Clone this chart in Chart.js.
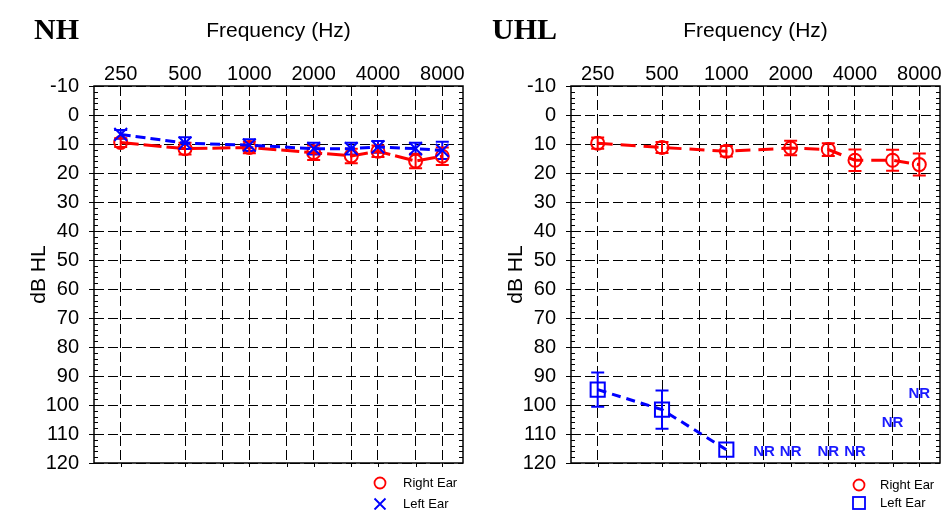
<!DOCTYPE html>
<html>
<head>
<meta charset="utf-8">
<script src="https://cdn.jsdelivr.net/npm/chart.js@4.4.0/dist/chart.umd.min.js"></script>
<style>
body{margin:0;background:#fff;width:945px;height:510px;position:relative;overflow:hidden;font-family:"Liberation Sans",Arial,sans-serif}
canvas{position:absolute;top:0}
#nh{left:0}
#uhl{left:477px}
.ttl{position:absolute;font-family:"Liberation Serif","Times New Roman",serif;font-weight:bold;font-size:30px;line-height:30px;color:#000}
.leg{position:absolute;font-size:13px;line-height:16px;color:#000;white-space:nowrap}
svg{position:absolute;overflow:visible}
</style>
</head>
<body>
<canvas id="nh" width="470" height="510"></canvas>
<canvas id="uhl" width="470" height="510"></canvas>

<div class="ttl" style="left:34px;top:14px">NH</div>
<div class="ttl" style="left:492px;top:14px">UHL</div>

<!-- legends -->
<svg style="left:373px;top:476px" width="14" height="14"><circle cx="7" cy="7" r="5.5" fill="none" stroke="#f00" stroke-width="1.8"/></svg>
<svg style="left:373px;top:497px" width="14" height="14"><path d="M1.5 1.5L12.5 12.5M12.5 1.5L1.5 12.5" stroke="#00f" stroke-width="1.8"/></svg>
<div class="leg" style="left:403px;top:475px">Right Ear</div>
<div class="leg" style="left:403px;top:496px">Left Ear</div>

<svg style="left:852px;top:478px" width="14" height="14"><circle cx="7" cy="7" r="5.5" fill="none" stroke="#f00" stroke-width="1.8"/></svg>
<svg style="left:852px;top:496px" width="14" height="14"><rect x="1" y="1" width="12" height="12" fill="none" stroke="#00f" stroke-width="1.8"/></svg>
<div class="leg" style="left:880px;top:477px">Right Ear</div>
<div class="leg" style="left:880px;top:495px">Left Ear</div>

<script>
var freqGrid = [250, 500, 750, 1000, 1500, 2000, 3000, 4000, 6000, 8000];
var freqLabels = [250, 500, 1000, 2000, 4000, 8000];

// NH
var nhFreqs = [250, 500, 1000, 2000, 3000, 4000, 6000, 8000];
var nhRight = [9.5, 11.6, 11.2, 13, 14.1, 12.5, 15.9, 14.2];
var nhRightErr = [1.5, 2, 2, 2.5, 2.5, 2, 2.5, 3];
var nhLeft = [6.7, 9.7, 10.4, 11.6, 11.6, 11, 11.6, 12.2];
var nhLeftErr = [1.5, 2, 2, 2, 2, 2, 2, 3];

// UHL
var uhlRightFreqs = [250, 500, 1000, 2000, 3000, 4000, 6000, 8000];
var uhlRight = [9.7, 11.2, 12.5, 11.4, 11.9, 15.6, 15.6, 17.1];
var uhlRightErr = [1.9, 1.9, 1.8, 2.5, 2.2, 3.7, 3.6, 3.8];
var uhlLeftFreqs = [250, 500, 1000];
var uhlLeft = [94.7, 101.6, 115.4];
var uhlLeftErr = [5.9, 6.6, 0];
var nrFreqs = [1500, 2000, 3000, 4000, 6000, 8000];
var nrLevels = [116, 116, 116, 116, 106, 96];

Chart.defaults.font.family = '"Liberation Sans", Arial, sans-serif';
Chart.defaults.color = '#000';

function pts(xs, ys) {
  return xs.map(function(x, i){ return {x: x, y: ys[i]}; });
}

var extras = {
  id: 'extras',
  beforeDatasetsDraw: function(chart) {
    var ctx = chart.ctx, ys = chart.scales.y;
    chart.data.datasets.forEach(function(ds, i){
      if (!ds.errors) return;
      var meta = chart.getDatasetMeta(i);
      ctx.save();
      ctx.strokeStyle = ds.borderColor;
      ctx.lineWidth = 2;
      ctx.setLineDash([]);
      meta.data.forEach(function(pt, j){
        var e = ds.errors[j];
        if (!e) return;
        var v = ds.data[j].y;
        var y1 = ys.getPixelForValue(v - e), y2 = ys.getPixelForValue(v + e);
        ctx.beginPath();
        ctx.moveTo(pt.x, y1); ctx.lineTo(pt.x, y2);
        ctx.moveTo(pt.x - 6.5, y1); ctx.lineTo(pt.x + 6.5, y1);
        ctx.moveTo(pt.x - 6.5, y2); ctx.lineTo(pt.x + 6.5, y2);
        ctx.stroke();
      });
      ctx.restore();
    });
  },
  afterDraw: function(chart, args, opts) {
    var ctx = chart.ctx, a = chart.chartArea, xs = chart.scales.x, ys = chart.scales.y;
    ctx.save();
    ctx.setLineDash([]);
    ctx.strokeStyle = '#000';
    // minor ticks
    ctx.lineWidth = 1;
    ctx.beginPath();
    for (var v = -10; v <= 120; v += 2) {
      var py = Math.round(ys.getPixelForValue(v)) + 0.5;
      ctx.moveTo(a.left, py); ctx.lineTo(a.left + 4, py);
      ctx.moveTo(a.right - 4, py); ctx.lineTo(a.right, py);
    }
    freqGrid.forEach(function(f){
      var px = Math.round(xs.getPixelForValue(f)) + 0.5;
      ctx.moveTo(px, a.bottom); ctx.lineTo(px, a.bottom + 4);
    });
    ctx.stroke();
    // frame
    ctx.lineWidth = 1.5;
    ctx.strokeRect(a.left, a.top, a.right - a.left, a.bottom - a.top);
    // NR labels
    if (opts.nrX) {
      ctx.fillStyle = '#1a1aff';
      ctx.font = 'bold 15px "Liberation Sans", Arial, sans-serif';
      ctx.textAlign = 'center';
      ctx.textBaseline = 'middle';
      opts.nrX.forEach(function(f, i){
        ctx.fillText('NR', xs.getPixelForValue(f), ys.getPixelForValue(opts.nrY[i]));
      });
    }
    ctx.restore();
  }
};

function makeChart(id, datasets, nr) {
  return new Chart(document.getElementById(id), {
    type: 'line',
    data: {datasets: datasets},
    plugins: [extras],
    options: {
      responsive: false,
      animation: false,
      devicePixelRatio: 1,
      layout: {autoPadding: false, padding: {left: 0, top: 0, right: 7, bottom: 47}},
      plugins: {
        legend: {display: false},
        tooltip: {enabled: false},
        extras: nr || {}
      },
      scales: {
        x: {
          type: 'logarithmic', position: 'top', min: 187.5, max: 10000,
          afterBuildTicks: function(s){ s.ticks = freqGrid.map(function(v){ return {value: v}; }); },
          afterFit: function(s){ s.height = 86; s.paddingLeft = 0; s.paddingRight = 0; },
          ticks: {
            autoSkip: false, maxRotation: 0, padding: 0, color: '#000', font: {size: 20},
            callback: function(v){ return freqLabels.indexOf(v) >= 0 ? String(v) : ''; }
          },
          grid: {color: '#000', lineWidth: 1, drawTicks: false},
          border: {display: false, dash: [10, 4]},
          title: {display: true, text: 'Frequency (Hz)', color: '#000', font: {size: 21}, padding: {top: 19, bottom: 0}}
        },
        y: {
          type: 'linear', reverse: true, min: -10, max: 120,
          afterFit: function(s){ s.width = 94; s.paddingTop = 0; s.paddingBottom = 0; },
          ticks: {stepSize: 10, padding: 10, color: '#000', font: {size: 20}},
          grid: {color: '#000', lineWidth: 1, drawTicks: true, tickLength: 5, tickColor: '#000'},
          border: {display: false, dash: [10, 4]},
          title: {display: true, text: 'dB HL', color: '#000', font: {size: 21}, padding: {top: 27, bottom: 0}}
        }
      }
    }
  });
}

function series(xs, ys, err, color, dash, style, radius) {
  return {
    data: pts(xs, ys), errors: err,
    borderColor: color, backgroundColor: 'transparent', borderWidth: 3, borderDash: dash,
    pointStyle: style, pointRadius: radius, pointBorderWidth: 2,
    pointBorderColor: color, pointBackgroundColor: 'transparent', tension: 0
  };
}

makeChart('nh', [
  series(nhFreqs, nhLeft, nhLeftErr, '#0000ff', [10, 5], 'crossRot', 9),
  series(nhFreqs, nhRight, nhRightErr, '#ff0000', [18, 5], 'circle', 6.5)
]);

makeChart('uhl', [
  series(uhlLeftFreqs, uhlLeft, uhlLeftErr, '#0000ff', [9, 6], 'rect', 10),
  series(uhlRightFreqs, uhlRight, uhlRightErr, '#ff0000', [15, 8], 'circle', 6.5)
], {nrX: nrFreqs, nrY: nrLevels});
</script>
</body>
</html>
